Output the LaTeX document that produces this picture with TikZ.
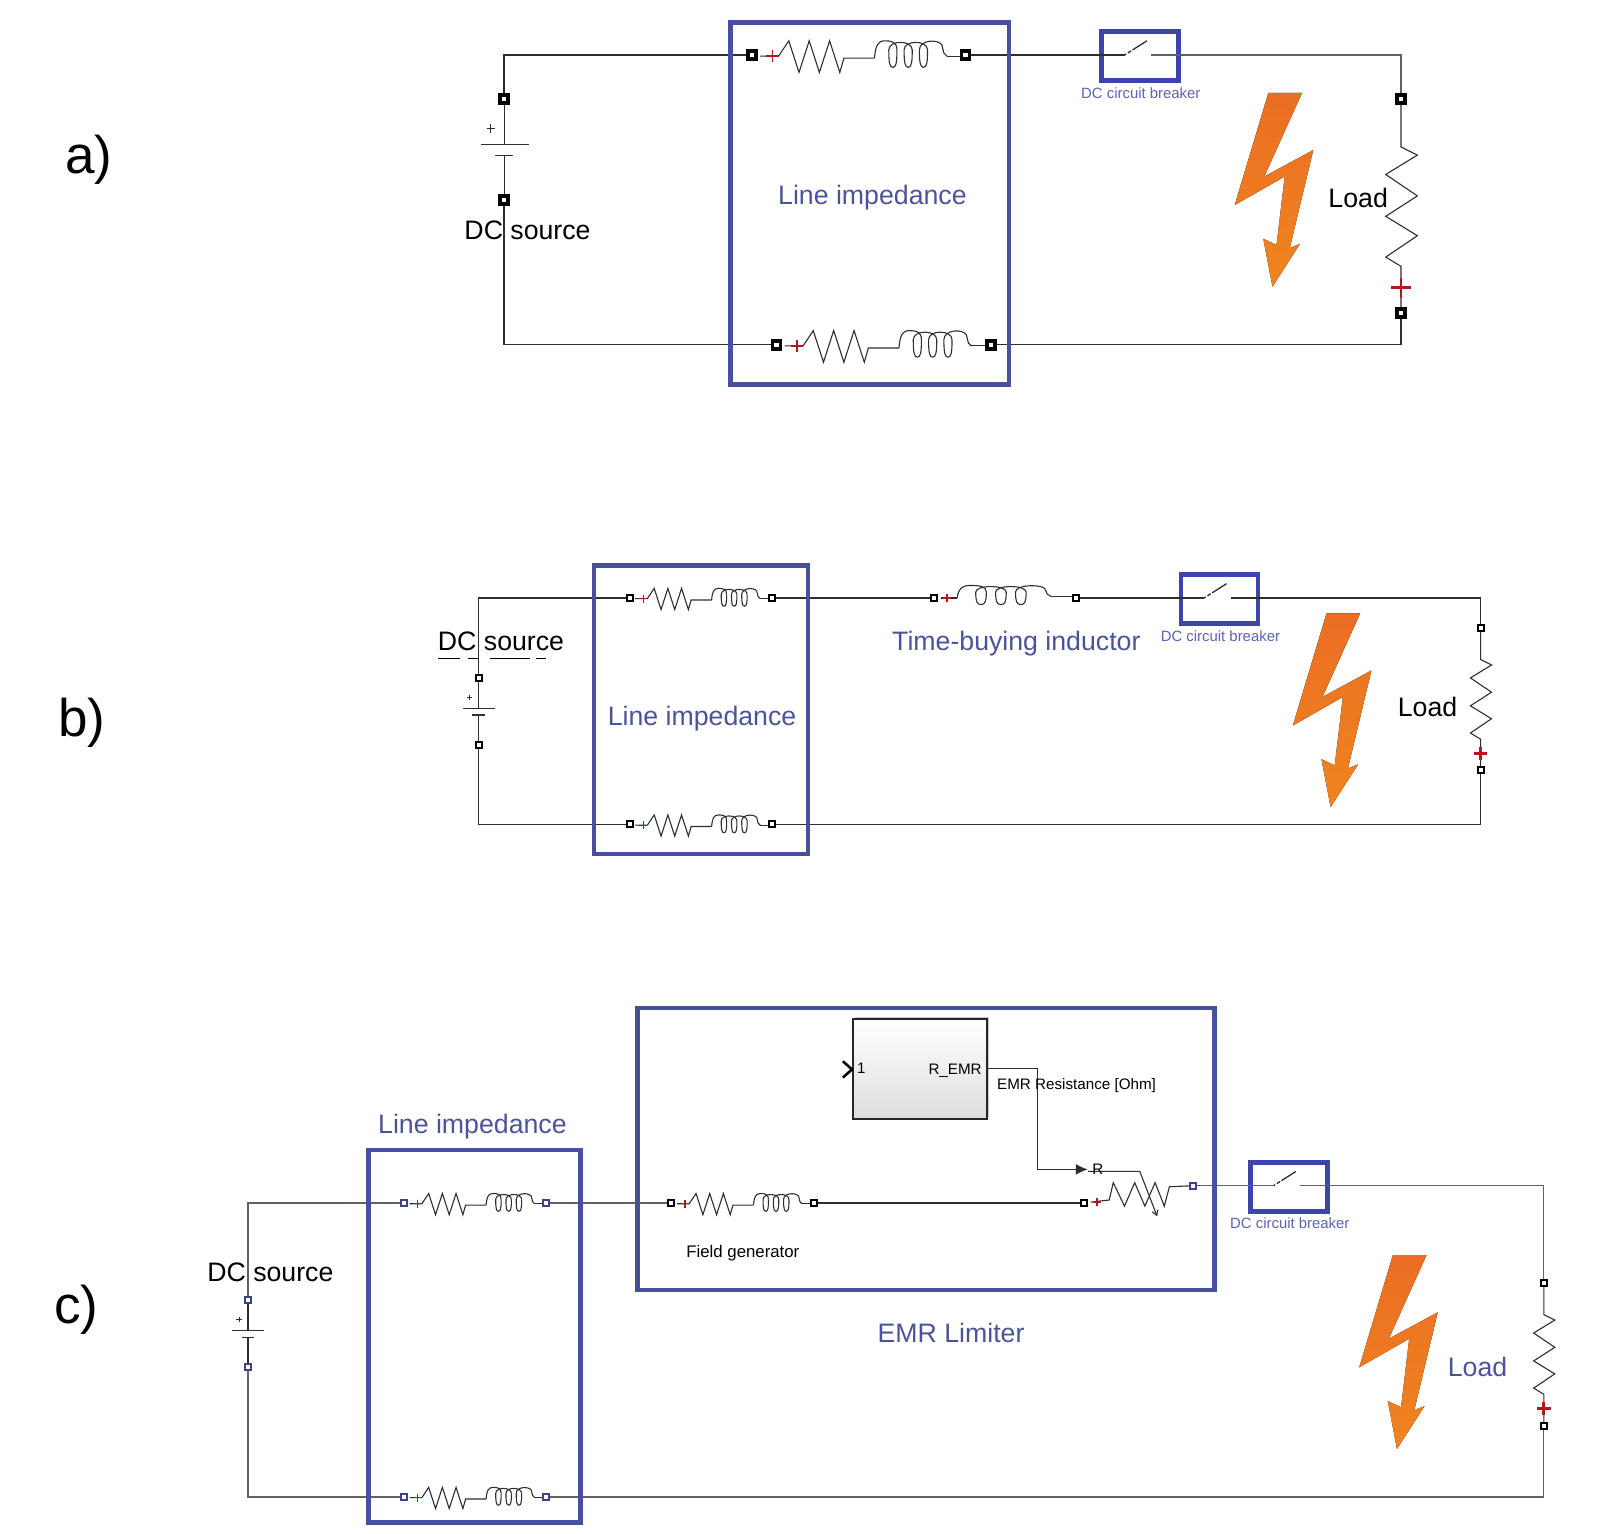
\documentclass[tikz,border=0pt]{standalone}
\usepackage{fontspec}
\setmainfont{Liberation Sans}
\usetikzlibrary{arrows.meta}
\usetikzlibrary{shadows}
\definecolor{mindigo}{rgb}{0.28, 0.31, 0.62}
\definecolor{mcbframe}{rgb}{0.24, 0.27, 0.68}
\definecolor{mlabel}{rgb}{0.30, 0.33, 0.60}
\definecolor{mcbtext}{rgb}{0.36, 0.39, 0.70}
\definecolor{mred}{rgb}{0.72, 0.08, 0.12}
\definecolor{mwire}{rgb}{0.18, 0.18, 0.18}
\definecolor{mgrey}{rgb}{0.38, 0.38, 0.38}
\definecolor{mboltT}{rgb}{0.92, 0.43, 0.14}
\definecolor{mboltB}{rgb}{0.94, 0.52, 0.12}
\tikzset{wire/.style = {draw=mwire, line width=1.2}}
\tikzset{greywire/.style = {draw=mgrey, line width=1.2}}
\tikzset{sym/.style = {draw=mwire, line width=1.1, line join=miter}}
\tikzset{frame/.style = {draw=mindigo, line width=4.6}}
\tikzset{bigterm/.style = {draw=black, fill=white, rectangle, inner sep=0, line width=3.6, minimum size=8}}
\tikzset{smallterm/.style = {draw=black, fill=white, rectangle, inner sep=0, line width=2, minimum size=6}}
\tikzset{blueterm/.style = {smallterm, draw=mindigo!85!black}}
\tikzset{txt/.style = {inner sep=0, text=black}}
\tikzset{big/.style = {txt, font=\fontsize{26.7}{30}\selectfont}}
\tikzset{blue/.style = {big, text=mlabel}}
\tikzset{tag/.style = {txt, font=\fontsize{53}{60}\selectfont}}
\tikzset{small/.style = {txt, font=\fontsize{15.2}{18}\selectfont}}
\tikzset{breaker/.style = {draw=mcbframe, rectangle, line width=4.8, inner sep=0, minimum width=77, minimum height=49}}
\tikzset{emrbox/.style = {draw=black!85, rectangle, line width=1.3, inner sep=0, minimum width=134, minimum height=100,
                          top color=white, middle color=white, bottom color=black!13,
                          drop shadow={shadow xshift=2, shadow yshift=-2, fill=black!45}}}
\newcommand{\coilpath}{
  \draw [sym] (0, 0) .. controls (1, -12) and (3, -17) .. (10, -17) .. controls (17, -17) and (22, -16) .. (22, -8);
  \foreach \c in {18, 33} {
    \draw [sym] (\c+4, -8) .. controls (\c+4, 5) and (\c+3, 9) .. (\c, 9) .. controls (\c-3, 9) and (\c-4, 5) .. (\c-4, -8)
                .. controls (\c-4, -18) and (\c+19, -18) .. (\c+19, -8);
  }
  \draw [sym] (52, -8) .. controls (52, 5) and (51, 9) .. (48, 9) .. controls (45, 9) and (44, 5) .. (44, -8)
              .. controls (44, -18) and (62, -19) .. (66, -13) -- (68, -5) -- (71, -2);
}
\tikzset{coil/.pic = {\coilpath}}
\tikzset{lineRL/.pic = {
  \draw [sym] (8, 1) -- (26, 1) -- (36, -14) -- (46, 17) -- (56, -14) -- (66, 17) -- (76, -14) -- (86, 17) -- (90, 3) -- (120, 3);
  \draw [mred, line width=1.3] (14, 1) -- (26, 1) (20, -5) -- (20, 7);
  \begin{scope}[shift={(120, 3)}]
    \coilpath
  \end{scope}
  \draw [sym] (191, 1) -- (204, 1);
}}
\tikzset{battery/.pic = {
  \draw [sym] (0, 0) -- (0, 45) (-23, 45) -- (24, 45) (-9, 55) -- (9, 55) (0, 55) -- (0, 99);
  \draw [sym] (-17, 29) -- (-9, 29) (-13, 25) -- (-13, 33);
}}
\tikzset{loadR/.pic = {
  \draw [sym] (0, 0) -- (0, 47) -- (16, 55) -- (-15, 74) -- (16, 95) -- (-15, 115) -- (16, 134) -- (-15, 155) -- (0, 164) -- (0, 210);
  \draw [mred, line width=2.8] (-10, 185) -- (10, 185) (0, 175) -- (0, 195);
}}
\tikzset{bolt/.pic = {
  \fill [top color=mboltT, bottom color=mboltB]
    (0, 0) -- (33, 0) -- (-4, 82) -- (44, 56) -- (21, 152) -- (31, 148) -- (4, 190)
    -- (-5, 143) -- (8, 149) -- (16, 82) -- (-33, 110) -- cycle;
}}
\begin{document}
\begin{tikzpicture}[x=1.0204pt, y=-1.0204pt]
  \useasboundingbox (0, 0) rectangle (1568, 1503);

  % line branches
  \foreach \n/\xl/\xr/\yy/\sc/\st/\se in {aTop/737/946/54/1/bigterm/bigterm, aBot/761/971/338/1/bigterm/bigterm,
      bTop/617/757/586/0.67/smallterm/smallterm, bBot/617/757/808/0.67/smallterm/smallterm,
      cTop/396/535/1179/0.67/blueterm/blueterm, cBot/396/535/1467/0.67/blueterm/blueterm,
      cFld/658/798/1179/0.67/smallterm/smallterm} {
    \pic [scale=\sc] at (\xl, \yy) {lineRL};
    \node [\st] (\n L) at (\xl, \yy) {};
    \node [\se] (\n R) at (\xr, \yy) {};
  }

  % sources and loads
  \foreach \n/\xb/\yb/\xr/\yr/\sc/\st/\se in {a/494/97/1373/97/1/bigterm/bigterm,
      b/469/664/1451/615/0.667/smallterm/smallterm, c/243/1274/1513/1257/0.667/blueterm/smallterm} {
    \pic [scale=\sc] at (\xb, \yb) {battery};
    \pic [scale=\sc] at (\xr, \yr) {loadR};
    \node [\st] (\n BatP) at (\xb, \yb) {};
    \node [\st] (\n BatN) at (\xb, \yb+99*\sc) {};
    \node [\se] (\n LoadT) at (\xr, \yr) {};
    \node [\se] (\n LoadB) at (\xr, \yr+210*\sc) {};
  }

  % breakers
  \foreach \n/\cx/\cy in {a/1117/54, b/1195/586, c/1263/1162} {
    \node [breaker] (\n CB) at (\cx, \cy+1) {};
    \coordinate (\n CBL) at (\cx-15, \cy);
    \coordinate (\n CBR) at (\cx+11, \cy);
    \draw [sym, line width=1.3, dash pattern=on 2 off 2 on 4 off 1.5 on 30 off 0] (\n CBL) -- (\cx+7, \cy-14);
    \node [txt, text=mcbtext, font=\fontsize{14.9}{18}\selectfont] (\n CBtxt) at (\cx+1, \cy+37) {DC circuit breaker};
  }

  % panel a
  \draw [wire] (aBatP) |- (aTopL);
  \draw [wire] (aBatN) |- (aBotL);
  \draw [wire] (aTopR) -- (aCBL);
  \draw [greywire] (aCBR) -| (aLoadT);
  \draw [wire] (aBotR) -| (aLoadB);
  \draw [frame] (716, 22) rectangle (989, 377);
  \pic at (1243, 91) {bolt};
  \node [tag] (aTag) at (87, 157) {a)};
  \node [big] (aSrc) at (517, 226) {DC source};
  \node [blue] (aImp) at (855, 194) {Line impedance};
  \node [big] (aLoad) at (1331, 194) {Load};

  % panel b
  \pic [xscale=1.3, yscale=0.72] at (938, 586) {coil};
  \draw [sym] (922, 586) -- (938, 586);
  \draw [mred, line width=1.2] (924, 586) -- (932, 586) (928, 582) -- (928, 590);
  \draw [sym] (1030, 585) -- (1051, 585);
  \node [smallterm] (bTbL) at (915, 586) {};
  \node [smallterm] (bTbR) at (1054, 586) {};
  \draw [wire] (bBatP) |- (bTopL);
  \draw [wire] (bBatN) |- (bBotL);
  \draw [wire] (bTopR) -- (bTbL);
  \draw [wire] (bTbR) -- (bCBL);
  \draw [wire] (bCBR) -| (bLoadT);
  \draw [wire] (bBotR) -| (bLoadB);
  \draw [frame] (582, 554) rectangle (792, 837);
  \pic at (1300, 601) {bolt};
  \draw [black, line width=1.2, dash pattern=on 22 off 8 on 10 off 12 on 40 off 6 on 10 off 8] (429, 645) -- (541, 645);
  \node [tag] (bTag) at (80, 708) {b)};
  \node [big] (bSrc) at (491, 628) {DC source};
  \node [blue] (bImp) at (688, 704) {Line impedance};
  \node [blue] (bTb) at (996, 631) {Time-buying inductor};
  \node [big] (bLoad) at (1399, 693) {Load};

  % panel c
  \node [smallterm] (cVarL) at (1062, 1179) {};
  \node [blueterm] (cVarR) at (1169, 1162) {};
  \draw [greywire] (cBatP) |- (cTopL);
  \draw [greywire] (cBatN) |- (cBotL);
  \draw [greywire] (cTopR) -- (cFldL);
  \draw [wire] (cFldR) -- (cVarL);
  \draw [sym] (1069, 1178) -- (1087, 1176) -- (1091, 1159) -- (1102, 1182) -- (1112, 1159) -- (1122, 1182) -- (1132, 1159) -- (1141, 1182) -- (1146, 1163) -- (cVarR);
  \draw [mred, line width=1.2] (1071, 1178) -- (1079, 1178) (1075, 1174) -- (1075, 1182);
  \draw [sym, -{Straight Barb[length=5, width=6]}] (1066, 1148) -- (1117, 1148) -- (1134, 1192);
  \draw [greywire] (cVarR) -- (cCBL);
  \draw [greywire] (cCBR) -| (cLoadT);
  \draw [greywire] (cBotR) -| (cLoadB);
  \node [emrbox] (cEmr) at (901.5, 1047.5) {};
  \coordinate (cRin) at (1066, 1146);
  \draw [wire, -{Latex[length=12, width=11]}] (cEmr.east) -- ++(49, 0) |- (cRin);
  \draw [black, line width=2.6] (826, 1040) -- (835, 1048) -- (826, 1056);
  \draw [frame] (361, 1127) rectangle (569, 1492);
  \draw [frame] (625, 988) rectangle (1190, 1264);
  \pic at (1365, 1230) {bolt};
  \node [tag] (cTag) at (75, 1284) {c)};
  \node [big] (cSrc) at (265, 1247) {DC source};
  \node [blue] (cImp) at (463, 1104) {Line impedance};
  \node [blue] (cLim) at (932, 1306) {EMR Limiter};
  \node [blue] (cLoad) at (1448, 1340) {Load};
  \node [small] (cOne) at (844, 1047) {1};
  \node [small] (cOut) at (936, 1049) {R\_EMR};
  \node [small] (cRes) at (1055, 1064) {EMR Resistance [Ohm]};
  \node [small] (cR) at (1076, 1146) {R};
  \node [small, font=\fontsize{16.8}{18}\selectfont] (cFld) at (728, 1228) {Field generator};
\end{tikzpicture}
\end{document}
